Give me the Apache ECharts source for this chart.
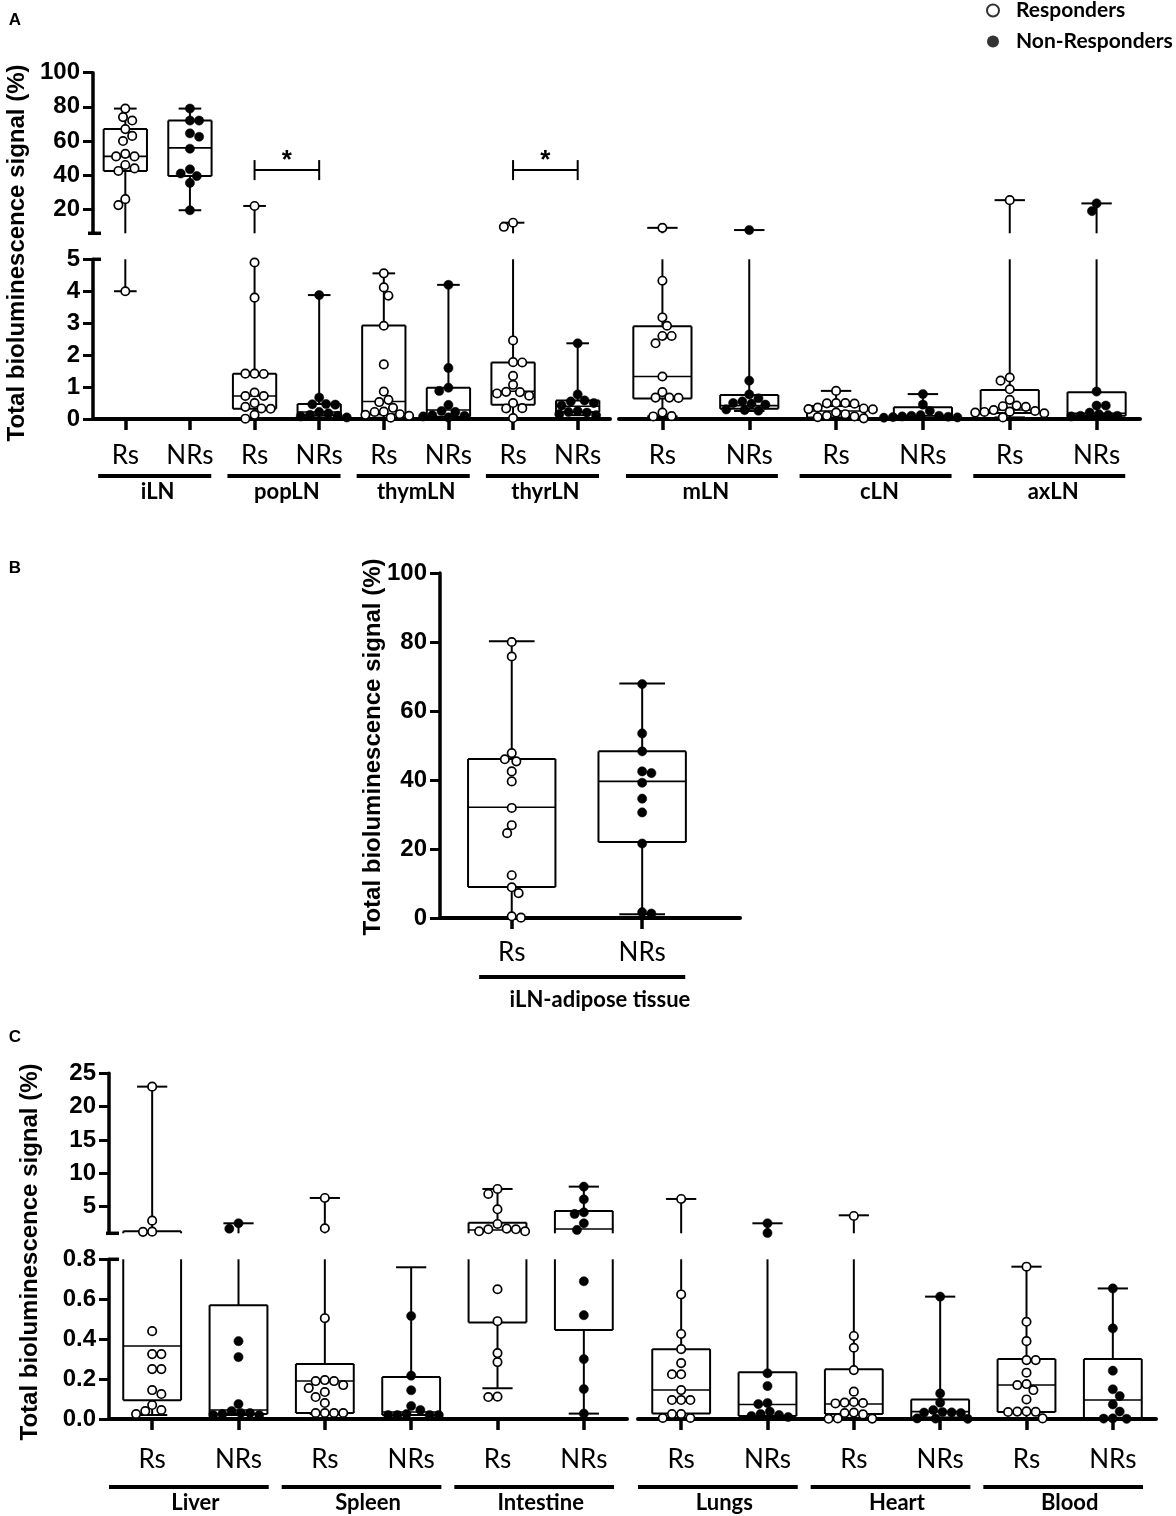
<!DOCTYPE html>
<html>
<head>
<meta charset="utf-8">
<script src="https://cdn.jsdelivr.net/npm/echarts@6.0.0/dist/echarts.min.js"></script>
<style>
  html, body { margin: 0; padding: 0; background: #fff; }
  #chart { width: 1176px; height: 1516px; }
</style>
</head>
<body>
<div id="chart"></div>
<script>
// ---------- data ----------
const subLabels = ['Rs', 'NRs'];
const groupsA1 = ['iLN', 'popLN', 'thymLN', 'thyrLN'];
const groupsA2 = ['mLN', 'cLN', 'axLN'];
const groupsB = ['iLN-adipose tissue'];
const groupsC1 = ['Liver', 'Spleen', 'Intestine'];
const groupsC2 = ['Lungs', 'Heart', 'Blood'];

// panel A, lymph nodes (% of total signal)
const iLN_Rs = [79, 74, 72, 67, 63, 60, 52.5, 51, 51, 46, 44, 42.5, 26, 22.5, 4.0];
const iLN_NRs = [79, 72, 72, 64.5, 62.5, 55.5, 43.5, 41, 39.5, 35.5, 19.5];
const popLN_Rs = [22, 4.9, 3.8, 1.42, 1.42, 1.41, 0.83, 0.72, 0.72, 0.5, 0.38, 0.33, 0.32, 0.13, 0.01];
const popLN_NRs = [3.88, 0.67, 0.47, 0.46, 0.45, 0.22, 0.18, 0.13, 0.1, 0.08, 0.05];
const thymLN_Rs = [4.56, 4.12, 3.86, 2.92, 1.71, 0.86, 0.6, 0.53, 0.35, 0.23, 0.22, 0.15, 0.13, 0.1, 0.04];
const thymLN_NRs = [4.2, 1.6, 0.98, 0.88, 0.44, 0.25, 0.22, 0.12, 0.1, 0.08, 0.05];
const thyrLN_Rs = [12.2, 9.8, 2.46, 1.78, 1.77, 1.35, 1.07, 0.85, 0.84, 0.8, 0.73, 0.5, 0.34, 0.33, 0.03];
const thyrLN_NRs = [2.37, 0.77, 0.58, 0.55, 0.5, 0.42, 0.25, 0.22, 0.2, 0.15, 0.12];
const mLN_Rs = [9.2, 4.33, 3.18, 2.92, 2.6, 2.6, 2.37, 1.33, 0.84, 0.67, 0.67, 0.66, 0.2, 0.09, 0.08];
const mLN_NRs = [7.9, 1.2, 0.77, 0.65, 0.55, 0.5, 0.48, 0.45, 0.3, 0.28, 0.26];
const cLN_Rs = [0.88, 0.5, 0.5, 0.49, 0.48, 0.36, 0.33, 0.31, 0.3, 0.2, 0.15, 0.1, 0.08, 0.06, 0.02];
const cLN_NRs = [0.78, 0.45, 0.25, 0.12, 0.1, 0.1, 0.08, 0.07, 0.06, 0.05, 0.04];
const axLN_Rs = [25.4, 1.3, 1.2, 0.93, 0.6, 0.42, 0.4, 0.38, 0.28, 0.25, 0.23, 0.22, 0.2, 0.18, 0.05];
const axLN_NRs = [23.5, 19, 0.86, 0.42, 0.42, 0.2, 0.15, 0.12, 0.1, 0.1, 0.08];

// box statistics [min, Q1, median, Q3, max], Rs then NRs for each group
const boxA1 = [
  [4.0, 42.5, 51, 67, 79], [19.5, 39.5, 56, 72, 79],
  [0.01, 0.32, 0.72, 1.42, 22], [0.05, 0.12, 0.22, 0.47, 3.88],
  [0.04, 0.15, 0.55, 2.93, 4.56], [0.05, 0.07, 0.28, 0.98, 4.2],
  [0.03, 0.45, 0.87, 1.77, 12.2], [0.12, 0.22, 0.4, 0.58, 2.37]
];
const boxA2 = [
  [0.08, 0.64, 1.33, 2.9, 9.2], [0.25, 0.32, 0.42, 0.75, 7.9],
  [0.02, 0.05, 0.25, 0.41, 0.88], [0.04, 0.05, 0.1, 0.37, 0.78],
  [0.05, 0.19, 0.28, 0.91, 25.4], [0.08, 0.1, 0.18, 0.84, 23.5]
];
// significance brackets: [from category, to category, height]
const sigA1 = [[2, 3, 43], [6, 7, 43]];

// panel B
const adipose_Rs = [80, 75.8, 47.8, 46, 45.4, 42.5, 39.6, 31.9, 26.9, 24.6, 12.4, 8.9, 7.2, 0.5, 0.1];
const adipose_NRs = [67.8, 53.5, 48.3, 42.5, 42, 39.2, 34.6, 30.6, 21.6, 1.7, 1.3];
const boxB = [[0.3, 9.0, 32.1, 46.1, 80.2], [1.1, 22.0, 39.6, 48.3, 68]];

// panel C, organs
const liver_Rs = [23, 2.9, 1.25, 1.22, 0.44, 0.325, 0.325, 0.25, 0.25, 0.145, 0.125, 0.07, 0.045, 0.04, 0.025];
const liver_NRs = [2.5, 1.7, 0.39, 0.31, 0.075, 0.04, 0.03, 0.03, 0.025, 0.02, 0.02];
const spleen_Rs = [6.3, 1.75, 0.505, 0.195, 0.19, 0.19, 0.17, 0.155, 0.135, 0.11, 0.08, 0.03, 0.03, 0.03, 0.03];
const spleen_NRs = [0.516, 0.217, 0.144, 0.065, 0.045, 0.025, 0.02, 0.02, 0.02, 0.02];
const intestine_Rs = [7.65, 6.9, 4.6, 2.4, 1.7, 1.6, 1.6, 1.3, 1.3, 0.65, 0.49, 0.33, 0.285, 0.112, 0.11];
const intestine_NRs = [8.0, 6.1, 4.15, 3.9, 2.5, 1.5, 0.69, 0.52, 0.3, 0.15, 0.027];
const lungs_Rs = [6.15, 0.624, 0.426, 0.35, 0.28, 0.224, 0.224, 0.145, 0.095, 0.095, 0.095, 0.025, 0.025, 0.005, 0.005];
const lungs_NRs = [2.5, 1.05, 0.229, 0.165, 0.08, 0.075, 0.037, 0.025, 0.02, 0.015, 0.01];
const heart_Rs = [3.6, 0.416, 0.357, 0.245, 0.137, 0.085, 0.082, 0.08, 0.078, 0.032, 0.03, 0.023, 0.003, 0.002, 0.001];
const heart_NRs = [0.613, 0.128, 0.082, 0.045, 0.035, 0.033, 0.032, 0.03, 0.003, 0.002, 0.001];
const blood_Rs = [0.763, 0.487, 0.39, 0.295, 0.295, 0.232, 0.175, 0.17, 0.145, 0.098, 0.038, 0.037, 0.036, 0.035, 0.003];
const blood_NRs = [0.654, 0.454, 0.242, 0.149, 0.115, 0.073, 0.037, 0.003, 0.002, 0.001];

const boxC1 = [
  [0.02, 0.094, 0.366, 1.3, 23], [0.02, 0.025, 0.045, 0.57, 2.5],
  [0.025, 0.03, 0.19, 0.276, 6.3], [0.02, 0.02, 0.035, 0.21, 0.76],
  [0.154, 0.484, 1.5, 2.6, 7.65], [0.027, 0.446, 1.65, 4.35, 8.0]
];
const boxC2 = [
  [0.005, 0.027, 0.145, 0.35, 6.15], [0.01, 0.015, 0.073, 0.234, 2.5],
  [0.001, 0.025, 0.075, 0.249, 3.7], [0.001, 0.008, 0.037, 0.098, 0.613],
  [0.003, 0.035, 0.17, 0.3, 0.763], [0.001, 0.003, 0.095, 0.3, 0.654]
];

const pointsA1 = [iLN_Rs, iLN_NRs, popLN_Rs, popLN_NRs, thymLN_Rs, thymLN_NRs, thyrLN_Rs, thyrLN_NRs];
const pointsA2 = [mLN_Rs, mLN_NRs, cLN_Rs, cLN_NRs, axLN_Rs, axLN_NRs];
const pointsB = [adipose_Rs, adipose_NRs];
const pointsC1 = [liver_Rs, liver_NRs, spleen_Rs, spleen_NRs, intestine_Rs, intestine_NRs];
const pointsC2 = [lungs_Rs, lungs_NRs, heart_Rs, heart_NRs, blood_Rs, blood_NRs];

// ---------- helpers ----------
const NUM_FONT = '"Liberation Sans", Arial, sans-serif';
const TXT_FONT = 'Lato, "Noto Sans", sans-serif';
const DOT = 9.2; // dot spacing in px for the swarm

function catData(groups) {
  const out = [];
  groups.forEach(g => subLabels.forEach(s => out.push(g + '|' + s)));
  return out;
}

// simple beeswarm: spread dots sideways so they do not overlap
function swarm(ys) {
  const order = ys.map((y, i) => i).sort((a, b) => ys[a] - ys[b]);
  const xs = new Array(ys.length);
  const placed = [];
  const step = DOT / 4;
  const minD2 = DOT * DOT * 0.9;
  order.forEach((i, n) => {
    let off = 0;
    const sgn = n % 2 ? -1 : 1;
    for (let k = 0; k < 80; k++) {
      const c = k === 0 ? 0 : sgn * (k % 2 ? 1 : -1) * Math.ceil(k / 2) * step;
      if (placed.every(p => (p.x - c) * (p.x - c) + (p.y - ys[i]) * (p.y - ys[i]) >= minD2)) {
        off = c;
        break;
      }
    }
    xs[i] = off;
    placed.push({ x: off, y: ys[i] });
  });
  return xs;
}

function boxSeries(gridIdx, boxes, points, lo, hi, xOf) {
  return {
    type: 'custom',
    xAxisIndex: gridIdx,
    yAxisIndex: gridIdx,
    z: 5,
    silent: true,
    data: boxes.map((b, i) => [xOf(i), i]),
    renderItem: function (params, api) {
      const x = api.value(0);
      const i = api.value(1);
      const band = api.size([1, 0])[0];
      const [mn, q1, md, q3, mx] = boxes[i];
      const clamp = v => Math.min(Math.max(v, lo), hi);
      const inR = v => v >= lo && v <= hi;
      const Y = v => api.coord([x, clamp(v)])[1];
      const cx = api.coord([x, lo])[0];
      const bw = band * 0.335, cw = band * 0.175;
      const kids = [];
      const line = (x1, y1, x2, y2, w) => kids.push({
        type: 'line', shape: { x1, y1, x2, y2 },
        style: { stroke: '#000', lineWidth: w || 2 }
      });
      if (clamp(mx) > clamp(q3)) line(cx, Y(q3), cx, Y(mx));
      if (clamp(q1) > clamp(mn)) line(cx, Y(mn), cx, Y(q1));
      if (inR(mx)) line(cx - cw, Y(mx), cx + cw, Y(mx));
      if (inR(mn)) line(cx - cw, Y(mn), cx + cw, Y(mn));
      if (clamp(q3) > clamp(q1)) {
        line(cx - bw, Y(q1), cx - bw, Y(q3));
        line(cx + bw, Y(q1), cx + bw, Y(q3));
      }
      if (inR(q3)) line(cx - bw, Y(q3), cx + bw, Y(q3));
      if (inR(q1)) line(cx - bw, Y(q1), cx + bw, Y(q1));
      if (inR(md)) line(cx - bw, Y(md), cx + bw, Y(md), 1.6);

      const vis = points[i].filter(inR);
      const ys = vis.map(v => api.coord([x, v])[1]);
      const offs = swarm(ys);
      const filled = i % 2 === 1;
      ys.forEach((y, k) => kids.push({
        type: 'circle',
        shape: { cx: cx + offs[k], cy: y, r: filled ? 4.6 : 4.2 },
        style: { fill: filled ? '#000' : '#fff', stroke: '#000', lineWidth: filled ? 0.5 : 1.7 }
      }));
      return { type: 'group', children: kids };
    }
  };
}

function underlineSeries(gridIdx, groups, xOf, o) {
  return {
    type: 'custom', xAxisIndex: gridIdx, yAxisIndex: gridIdx, silent: true, z: 4,
    data: groups.map((g, i) => [xOf(2 * i), xOf(2 * i + 1), i]),
    renderItem: function (params, api) {
      const band = api.size([1, 0])[0];
      const p1 = api.coord([api.value(0), 0]);
      const p2 = api.coord([api.value(1), 0]);
      const y = p1[1];
      return {
        type: 'group', children: [
          { type: 'line', shape: { x1: p1[0] - o.extL * band, y1: y + o.lineDy, x2: p2[0] + o.extR * band, y2: y + o.lineDy },
            style: { stroke: '#000', lineWidth: 4 } },
          { type: 'text', x: (p1[0] + p2[0]) / 2 + (o.shift || 0), y: y + o.textDy,
            style: { text: groups[api.value(2)], fill: '#000', font: 'bold 22px ' + TXT_FONT, align: 'center', verticalAlign: 'middle' } }
        ]
      };
    }
  };
}

// short break marks on the y axis
function stubSeries(gridIdx, value, out, inn) {
  return {
    type: 'custom', xAxisIndex: gridIdx, yAxisIndex: gridIdx, silent: true, z: 4,
    data: [[0, value]],
    renderItem: function (params, api) {
      const band = api.size([1, 0])[0];
      const p = api.coord([0, value]);
      const ax = p[0] - band / 2;
      return { type: 'line', shape: { x1: ax - out, y1: p[1], x2: ax + inn, y2: p[1] }, style: { stroke: '#000', lineWidth: 3.5 } };
    }
  };
}

function bracketSeries(gridIdx, list) {
  return {
    type: 'custom', xAxisIndex: gridIdx, yAxisIndex: gridIdx, silent: true, z: 4,
    data: list,
    renderItem: function (params, api) {
      const a = api.coord([api.value(0), api.value(2)]);
      const b = api.coord([api.value(1), api.value(2)]);
      const ls = { stroke: '#000', lineWidth: 2 };
      return {
        type: 'group', children: [
          { type: 'line', shape: { x1: a[0], y1: a[1], x2: b[0], y2: b[1] }, style: ls },
          { type: 'line', shape: { x1: a[0], y1: a[1] - 10, x2: a[0], y2: a[1] + 10 }, style: ls },
          { type: 'line', shape: { x1: b[0], y1: b[1] - 10, x2: b[0], y2: b[1] + 10 }, style: ls },
          { type: 'text', x: (a[0] + b[0]) / 2, y: a[1] - 9,
            style: { text: '*', fill: '#000', font: 'bold 26px ' + NUM_FONT, align: 'center', verticalAlign: 'middle' } }
        ]
      };
    }
  };
}

const numLabel = { color: '#000', fontFamily: NUM_FONT, fontWeight: 'bold', fontSize: 24, margin: 13 };
const axLine = { show: true, onZero: false, lineStyle: { color: '#000', width: 3.5 } };
const axTick = { show: true, length: 10, lineStyle: { color: '#000', width: 3 } };

function yAxisCfg(grid, min, max, showAxis, extra) {
  return Object.assign({
    type: 'value', gridIndex: grid, min: min, max: max, show: showAxis,
    axisLine: axLine, axisTick: axTick, splitLine: { show: false },
    axisLabel: numLabel
  }, extra || {});
}

function xCatTop(grid, cats) {
  return { type: 'category', gridIndex: grid, data: cats, show: false };
}
function xCatBottom(grid, cats, margin) {
  return {
    type: 'category', gridIndex: grid, data: cats,
    axisLine: { show: true, onZero: false, lineStyle: { color: '#000', width: 4 } },
    axisTick: { show: true, alignWithLabel: true, interval: 0, length: 11, lineStyle: { color: '#000', width: 3.5 } },
    axisLabel: { interval: 0, margin: margin, color: '#000', fontFamily: TXT_FONT, fontSize: 26,
      formatter: v => v.split('|')[1] },
    splitLine: { show: false }
  };
}

const catA1 = catData(groupsA1), catA2 = catData(groupsA2);
const catC1 = catData(groupsC1), catC2 = catData(groupsC2);
const idx = i => i;
const idxB = i => i + 1;

const option = {
  animation: false,
  backgroundColor: '#fff',
  grid: [
    { left: 93, top: 72.7, width: 517, height: 160.6 },   // 0 A left, upper
    { left: 93, top: 259.3, width: 517, height: 159.7 },  // 1 A left, lower
    { left: 619, top: 72.7, width: 521, height: 160.6 },  // 2 A right, upper
    { left: 619, top: 259.3, width: 521, height: 159.7 }, // 3 A right, lower
    { left: 440, top: 573, width: 300, height: 345 },     // 4 B
    { left: 109, top: 1073.3, width: 518, height: 160 },  // 5 C left, upper
    { left: 109, top: 1259.3, width: 518, height: 159.7 },// 6 C left, lower
    { left: 638, top: 1073.3, width: 518, height: 160 },  // 7 C right, upper
    { left: 638, top: 1259.3, width: 518, height: 159.7 } // 8 C right, lower
  ],
  xAxis: [
    xCatTop(0, catA1), xCatBottom(1, catA1, 24),
    xCatTop(2, catA2), xCatBottom(3, catA2, 24),
    {
      type: 'value', gridIndex: 4, min: 0.45, max: 2.75,
      axisLine: { show: true, onZero: false, lineStyle: { color: '#000', width: 4 } },
      axisTick: { show: true, length: 11, customValues: [1, 2], lineStyle: { color: '#000', width: 3.5 } },
      axisLabel: { customValues: [1, 2], margin: 22, color: '#000', fontFamily: TXT_FONT, fontSize: 26,
        formatter: v => subLabels[Math.round(v) - 1] },
      splitLine: { show: false }
    },
    xCatTop(5, catC1), xCatBottom(6, catC1, 28),
    xCatTop(7, catC2), xCatBottom(8, catC2, 28)
  ],
  yAxis: [
    yAxisCfg(0, 6, 100, true, {
      axisTick: Object.assign({ customValues: [20, 40, 60, 80, 100] }, axTick),
      axisLabel: Object.assign({ customValues: [20, 40, 60, 80, 100] }, numLabel)
    }),
    yAxisCfg(1, 0, 5, true, { interval: 1 }),
    yAxisCfg(2, 6, 100, false),
    yAxisCfg(3, 0, 5, false),
    yAxisCfg(4, 0, 100, true, { interval: 20 }),
    yAxisCfg(5, 1, 25, true, {
      axisTick: Object.assign({ customValues: [5, 10, 15, 20, 25] }, axTick),
      axisLabel: Object.assign({ customValues: [5, 10, 15, 20, 25] }, numLabel)
    }),
    yAxisCfg(6, 0, 0.8, true, { interval: 0.2, axisLabel: Object.assign({ formatter: v => v.toFixed(1) }, numLabel) }),
    yAxisCfg(7, 1, 25, false),
    yAxisCfg(8, 0, 0.8, false)
  ],
  legend: {
    left: 986, top: 0, padding: 0, orient: 'vertical', itemGap: 10, itemWidth: 12, itemHeight: 12,
    icon: 'circle', selectedMode: false,
    textStyle: { fontFamily: TXT_FONT, fontWeight: 'bold', fontSize: 21, color: '#000', padding: [0, 0, 0, 12] },
    data: [
      { name: 'Responders', itemStyle: { color: '#fff', borderColor: '#000', borderWidth: 2 } },
      { name: 'Non-Responders', itemStyle: { color: '#000', borderWidth: 0 } }
    ]
  },
  graphic: [
    { type: 'text', x: 15, y: 20, style: { text: 'A', font: 'bold 17px ' + NUM_FONT, fill: '#000', align: 'center', verticalAlign: 'middle' } },
    { type: 'text', x: 15, y: 568, style: { text: 'B', font: 'bold 17px ' + NUM_FONT, fill: '#000', align: 'center', verticalAlign: 'middle' } },
    { type: 'text', x: 15, y: 1037, style: { text: 'C', font: 'bold 17px ' + NUM_FONT, fill: '#000', align: 'center', verticalAlign: 'middle' } },
    { type: 'text', x: 17, y: 253, rotation: Math.PI / 2,
      style: { text: 'Total bioluminescence signal (%)', font: 'bold 24px ' + NUM_FONT, fill: '#000', align: 'center', verticalAlign: 'middle' } },
    { type: 'text', x: 373, y: 747, rotation: Math.PI / 2,
      style: { text: 'Total bioluminescence signal (%)', font: 'bold 24px ' + NUM_FONT, fill: '#000', align: 'center', verticalAlign: 'middle' } },
    { type: 'text', x: 30, y: 1252, rotation: Math.PI / 2,
      style: { text: 'Total bioluminescence signal (%)', font: 'bold 24px ' + NUM_FONT, fill: '#000', align: 'center', verticalAlign: 'middle' } }
  ],
  series: [
    { type: 'scatter', name: 'Responders', xAxisIndex: 0, yAxisIndex: 0, data: [],
      itemStyle: { color: '#fff', borderColor: '#000', borderWidth: 2 } },
    { type: 'scatter', name: 'Non-Responders', xAxisIndex: 0, yAxisIndex: 0, data: [],
      itemStyle: { color: '#000' } },

    boxSeries(0, boxA1, pointsA1, 6, 100, idx),
    boxSeries(1, boxA1, pointsA1, 0, 5, idx),
    boxSeries(2, boxA2, pointsA2, 6, 100, idx),
    boxSeries(3, boxA2, pointsA2, 0, 5, idx),
    boxSeries(4, boxB, pointsB, 0, 100, idxB),
    boxSeries(5, boxC1, pointsC1, 1, 25, idx),
    boxSeries(6, boxC1, pointsC1, 0, 0.8, idx),
    boxSeries(7, boxC2, pointsC2, 1, 25, idx),
    boxSeries(8, boxC2, pointsC2, 0, 0.8, idx),

    bracketSeries(0, sigA1),
    stubSeries(0, 6, 5, 8),
    stubSeries(1, 5, 0, 8),
    stubSeries(5, 1, 3, 10),
    stubSeries(6, 0.8, 0, 10),

    underlineSeries(1, groupsA1, idx, { extL: 0.42, extR: 0.33, lineDy: 57, textDy: 73 }),
    underlineSeries(3, groupsA2, idx, { extL: 0.42, extR: 0.33, lineDy: 57, textDy: 73 }),
    underlineSeries(4, groupsB, idxB, { extL: 0.25, extR: 0.33, lineDy: 59, textDy: 82, shift: 23 }),
    underlineSeries(6, groupsC1, idx, { extL: 0.5, extR: 0.35, lineDy: 68, textDy: 84 }),
    underlineSeries(8, groupsC2, idx, { extL: 0.5, extR: 0.35, lineDy: 68, textDy: 84 })
  ]
};

const chart = echarts.init(document.getElementById('chart'));
chart.setOption(option);
</script>
</body>
</html>
